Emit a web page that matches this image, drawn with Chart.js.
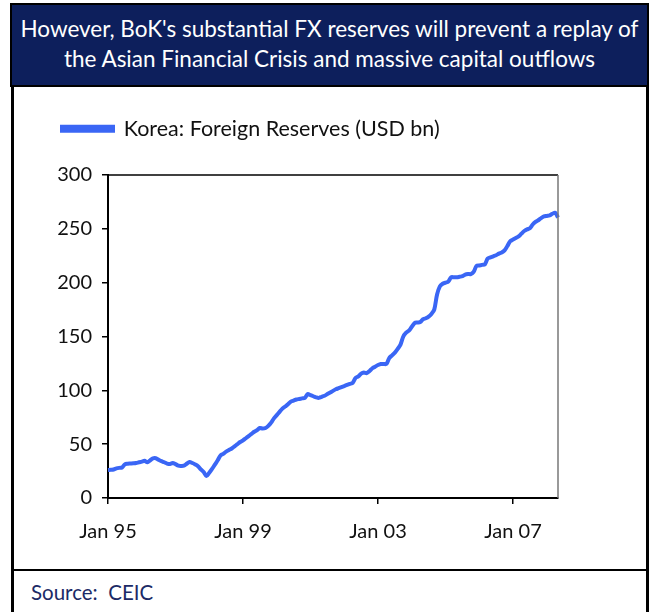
<!DOCTYPE html>
<html>
<head>
<meta charset="utf-8">
<script src="https://cdn.jsdelivr.net/npm/chart.js@4.4.1/dist/chart.umd.min.js"></script>
<style>
  html, body { margin: 0; padding: 0; background: #fff; }
  #page { position: relative; width: 654px; height: 612px; overflow: hidden; font-family: Lato, "Open Sans", sans-serif; }
  #title {
    position: absolute; left: 10px; top: 3px; width: 639px; height: 84px;
    box-sizing: border-box; border: 2px solid #000; background: #0d1f5c;
    color: #fff; font-size: 22.5px; line-height: 30px; text-align: center;
    padding-top: 9px;
  }
  .vline { position: absolute; top: 86px; width: 3px; height: 530px; background: #000; }
  #sep { position: absolute; left: 14px; top: 569px; width: 632px; height: 2px; background: #000; }
  #source { position: absolute; left: 31px; top: 580px; font-size: 20.5px; color: #1b2a66; }
  #wrap { position: absolute; left: 14px; top: 88px; width: 632px; height: 480px; }
</style>
</head>
<body>
<div id="page">
  <div id="title">However, BoK's substantial FX reserves will prevent a replay of<br>the Asian Financial Crisis and massive capital outflows</div>
  <div class="vline" style="left:11px"></div>
  <div class="vline" style="left:646px"></div>
  <div id="wrap"><canvas id="chart" width="632" height="480"></canvas></div>
  <div id="sep"></div>
  <div id="source">Source:&nbsp; CEIC</div>
</div>
<script>
// Monthly data, Jan 1995 - May 2008 (USD bn)
const years = [95, 96, 97, 98, 99, 0, 1, 2, 3, 4, 5, 6, 7, 8];
const tickLabels = ['Jan 95', 'Jan 99', 'Jan 03', 'Jan 07'];
const seriesName = 'Korea: Foreign Reserves (USD bn)';

const reserves1995_1999 = [
  26, 26.2, 26.5, 27.5, 28, 28.3, 31.3, 31.8, 32, 32.2, 32.5, 33.2,
  33.8, 34.5, 33.2, 35, 36.8, 36.9, 35.5, 34.2, 33.2, 32, 31.5, 32.6,
  31.5, 30, 29.8, 30, 31.8, 33.4, 32.5, 31.2, 29.5, 26.5, 24.2, 20.4,
  23.5, 27, 31, 35, 39.5, 41, 43, 44.5, 46, 48, 50, 52,
  53.5, 55.5, 57.5, 59.5, 61.5, 63, 65, 64.5, 65, 67, 70, 74
];
const reserves2000_2004 = [
  77, 80, 83, 85, 87, 89.5, 90.5, 91.5, 92, 92.5, 93, 96.5,
  95.5, 94.5, 93.5, 93, 94, 95, 96.5, 98, 99.5, 101, 102, 103,
  104, 105, 106, 107, 111.5, 113, 115.5, 116.5, 116, 118, 120.5, 122,
  123.5, 124.5, 124.5, 124.5, 130, 132.5, 135, 138.5, 142.5, 150, 153.5, 155.5,
  159, 162.5, 163, 163.5, 166, 167, 168.5, 171, 175, 189, 196.5, 199
];
const reserves2005_2008 = [
  200, 201, 205, 205, 205, 205.5, 206, 207.5, 208, 208, 210, 215.5,
  216, 216.5, 217, 222.5, 223.5, 224.5, 225.5, 227, 228, 230, 234, 238.5,
  240, 241.5, 243, 245.5, 248, 249.5, 250.5, 254, 256.5, 258, 260, 261.5,
  262, 262.5, 264, 265, 260.5
];

const reserves = [...reserves1995_1999, ...reserves2000_2004, ...reserves2005_2008];
const months = ['Jan', 'Feb', 'Mar', 'Apr', 'May', 'Jun', 'Jul', 'Aug', 'Sep', 'Oct', 'Nov', 'Dec'];
const labels = [];
years.forEach(y => months.forEach(m => labels.push(m + ' ' + String(y).padStart(2, '0'))));
labels.length = reserves.length;

const lineColor = '#3a66f5';
const font = { family: 'Lato, "Open Sans", sans-serif', size: 20 };

// fixed legend height so the plot box lands where the reference has it
const legendFix = {
  id: 'legendFix',
  beforeInit(chart) {
    const fit = chart.legend.fit;
    chart.legend.fit = function () {
      fit.call(this);
      this.height = 67;
    };
  }
};

// top and right edges of the plot box
const plotBox = {
  id: 'plotBox',
  afterDraw(chart) {
    const { ctx, chartArea: a } = chart;
    ctx.save();
    ctx.lineWidth = 1.5;
    ctx.strokeStyle = '#000';
    ctx.beginPath();
    ctx.moveTo(a.left, a.top);
    ctx.lineTo(a.right, a.top);
    ctx.stroke();
    ctx.strokeStyle = '#777';
    ctx.beginPath();
    ctx.moveTo(a.right, a.top);
    ctx.lineTo(a.right, a.bottom);
    ctx.stroke();
    ctx.restore();
  }
};

new Chart(document.getElementById('chart'), {
  type: 'line',
  data: {
    labels: labels,
    datasets: [{
      label: seriesName,
      data: reserves,
      borderColor: lineColor,
      backgroundColor: lineColor,
      borderWidth: 4,
      pointRadius: 0,
      tension: 0.3,
      fill: false
    }]
  },
  options: {
    responsive: false,
    animation: false,
    layout: { padding: { left: 38, right: 88, top: 20, bottom: 0 } },
    plugins: {
      legend: {
        display: true,
        position: 'top',
        align: 'start',
        labels: {
          color: '#111',
          font: { family: font.family, size: 21.5 },
          boxWidth: 51,
          boxHeight: 4,
          padding: 10
        }
      },
      tooltip: { enabled: false }
    },
    scales: {
      x: {
        type: 'category',
        offset: false,
        afterFit(scale) { scale.height = 70; },
        afterBuildTicks(scale) {
          scale.ticks = scale.ticks.filter(t => tickLabels.includes(labels[t.value]));
        },
        ticks: {
          autoSkip: false,
          maxRotation: 0,
          color: '#111',
          font: font,
          padding: 16
        },
        grid: { drawOnChartArea: false, drawTicks: true, tickLength: 6, color: '#000', lineWidth: 1.5 },
        border: { color: '#000', width: 2 }
      },
      y: {
        min: 0,
        max: 300,
        afterFit(scale) { scale.width = 56; },
        ticks: {
          stepSize: 50,
          color: '#111',
          font: font,
          padding: 10
        },
        grid: { drawOnChartArea: false, drawTicks: true, tickLength: 6, color: '#000', lineWidth: 1.5 },
        border: { color: '#000', width: 2 }
      }
    }
  },
  plugins: [legendFix, plotBox]
});
</script>
</body>
</html>
